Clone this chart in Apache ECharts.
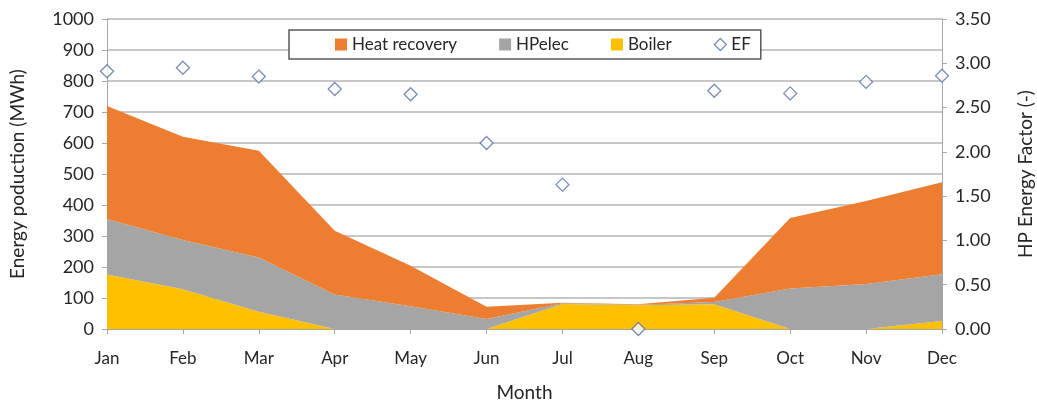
<!DOCTYPE html>
<html>
<head>
<meta charset="utf-8">
<script src="https://cdn.jsdelivr.net/npm/echarts@6/dist/echarts.min.js"></script>
<style>
  html, body { margin: 0; padding: 0; background: #fff; }
  #chart { width: 1037px; height: 401px; }
</style>
</head>
<body>
<div id="chart"></div>
<script>
// data
var months = ['Jan', 'Feb', 'Mar', 'Apr', 'May', 'Jun', 'Jul', 'Aug', 'Sep', 'Oct', 'Nov', 'Dec'];
var boiler = [176, 128, 56, 0, 0, 0, 81, 77, 80, 0, 0, 26];
var hpElec = [179, 159, 175, 111, 73, 32, 2, 1, 7, 131, 145, 151];
var heatRecovery = [364, 333, 344, 206, 131, 40, 2, 2, 14, 227, 268, 296];
var ef = [2.91, 2.95, 2.85, 2.71, 2.65, 2.10, 1.63, 0.00, 2.69, 2.66, 2.79, 2.86];

var font = 'Lato, "Open Sans", sans-serif';
var txt = '#262626';

var chart = echarts.init(document.getElementById('chart'));

function area(name, data, color) {
    return {
        name: name,
        type: 'line',
        stack: 'total',
        data: data,
        symbol: 'none',
        lineStyle: { width: 0 },
        areaStyle: { color: color, opacity: 1 },
        itemStyle: { color: color },
        z: 2
    };
}

chart.setOption({
    animation: false,
    textStyle: { fontFamily: font },
    grid: { left: 107, right: 95, top: 19, bottom: 72, outerBoundsMode: 'none' },
    legend: {
        left: 289, top: 30, width: 498, height: 31,
        padding: [6, 10, 6, 46],
        itemGap: 42,
        backgroundColor: '#fff',
        borderColor: '#595959',
        borderWidth: 1.5,
        itemWidth: 12, itemHeight: 12,
        textStyle: { fontFamily: font, fontSize: 17, color: txt },
        data: [
            { name: 'Heat recovery', icon: 'rect' },
            { name: 'HPelec', icon: 'rect' },
            { name: 'Boiler', icon: 'rect' },
            { name: 'EF', icon: 'diamond', itemStyle: { color: '#fff', borderColor: '#5a6fa8', borderWidth: 1.3 } }
        ]
    },
    xAxis: {
        type: 'category',
        data: months,
        boundaryGap: false,
        name: 'Month',
        nameLocation: 'middle',
        nameGap: 54,
        nameTextStyle: { fontSize: 19, color: txt, fontFamily: font },
        axisLine: { lineStyle: { color: '#a6a6a6', width: 1 } },
        axisTick: { show: true, length: 5, lineStyle: { color: '#a6a6a6' } },
        axisLabel: { fontSize: 17, color: txt, margin: 21, fontFamily: font },
        splitLine: { show: false }
    },
    yAxis: [
        {
            type: 'value', min: 0, max: 1000, interval: 100,
            name: 'Energy poduction (MWh)',
            nameLocation: 'middle', nameGap: 80,
            nameTextStyle: { fontSize: 19, color: txt, fontFamily: font },
            axisLine: { show: true, lineStyle: { color: '#a6a6a6' } },
            axisTick: { show: true, length: 5, lineStyle: { color: '#a6a6a6' } },
            axisLabel: { fontSize: 18, color: txt, margin: 13, fontFamily: font,
                formatter: function (v) { return String(v); } },
            splitLine: { lineStyle: { color: '#b4b4b4', width: 1.5 } }
        },
        {
            type: 'value', min: 0, max: 3.5, interval: 0.5,
            name: 'HP Energy Factor (-)',
            nameLocation: 'middle', nameGap: 74, nameRotate: 90,
            nameTextStyle: { fontSize: 19, color: txt, fontFamily: font },
            axisLine: { show: true, lineStyle: { color: '#a6a6a6' } },
            axisTick: { show: true, length: 5, lineStyle: { color: '#a6a6a6' } },
            axisLabel: { fontSize: 18, color: txt, margin: 13, fontFamily: font,
                formatter: function (v) { return v.toFixed(2); } },
            splitLine: { show: false }
        }
    ],
    series: [
        area('Boiler', boiler, '#ffc000'),
        area('HPelec', hpElec, '#a5a5a5'),
        area('Heat recovery', heatRecovery, '#ed7d31'),
        {
            name: 'EF',
            type: 'scatter',
            yAxisIndex: 1,
            data: ef,
            symbol: 'diamond',
            symbolSize: [13, 13],
            itemStyle: { color: '#fff', borderColor: '#5a6fa8', borderWidth: 1.3 },
            z: 5
        }
    ]
});
</script>
</body>
</html>
